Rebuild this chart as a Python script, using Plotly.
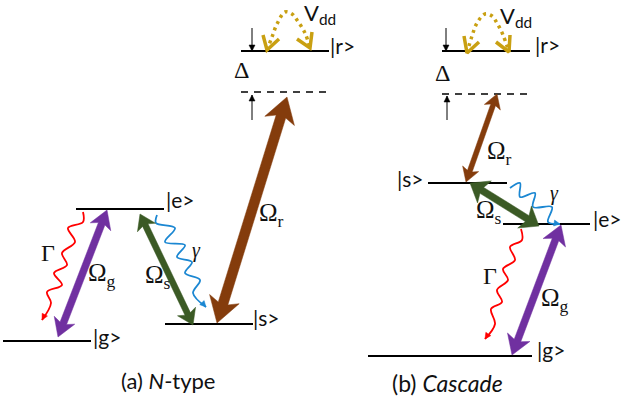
import math
import plotly.graph_objects as go

# ---- energy levels: start x, end x, height (axis units follow the picture)
level_x0 = [76, 3, 165, 241, 442, 428, 503, 368]
level_x1 = [164, 91, 253, 329, 530, 507, 590, 532]
level_y = [209, 341, 324, 51, 51, 183, 224, 356]

detuned_x0 = [241, 442]
detuned_x1 = [329, 530]
detuned_y = [92, 94]

# ---- double-headed couplings
coupling_names = ["Og_a", "Os_a", "Or_a", "Or_b", "Os_b", "Og_b"]
coupling_x0 = [107, 140, 287, 497, 470, 561]
coupling_y0 = [210, 214, 97, 94, 183, 225]
coupling_x1 = [58, 193, 217, 466, 539, 512]
coupling_y1 = [337, 325, 323, 182, 226, 355]
coupling_colors = ["#7030a0", "#3b5a25", "#843c0c", "#843c0c", "#3b5a25", "#7030a0"]
coupling_shaft = [7, 6, 10, 5, 7, 7]
coupling_head_len = [18, 15, 25, 14, 17, 19]
coupling_head_wid = [22, 20, 31, 17, 26, 24]

# ---- decay paths
red_a_x = [83, 83, 68, 75, 62, 67, 54, 62, 47, 51, 42]
red_a_y = [212, 222, 228, 242, 253, 265, 273, 285, 292, 303, 320]
blue_a_x = [157, 156, 175, 165, 185, 177, 192, 185, 200, 193, 206]
blue_a_y = [215, 223, 228, 242, 245, 257, 262, 273, 280, 293, 307]
blue_b_x = [510, 520, 520, 535, 533, 552, 548, 560]
blue_b_y = [188, 183, 197, 193, 207, 207, 222, 224]
red_b_x = [521, 522, 510, 515, 503, 508, 497, 502, 491, 495, 485]
red_b_y = [229, 240, 247, 260, 269, 280, 290, 302, 309, 324, 339]

# ---- dipole-dipole arcs with their open heads
arc_a_x = [267, 272, 277, 285, 292, 297, 305, 310]
arc_a_y = [50, 37, 24, 12, 14, 20, 33, 48]
arc_b_x = [467, 472, 477, 485, 492, 497, 503, 509]
arc_b_y = [53, 36, 23, 14, 16, 23, 35, 52]
chevron_x = [[263, 267, 279], [297, 310, 312], [464, 467, 479], [496, 509, 510]]
chevron_y = [[35, 50, 39], [39, 48, 32], [36, 53, 42], [42, 52, 35]]

# ---- detuning markers
detune_x0 = [252, 252, 446, 447]
detune_y0 = [28, 120, 28, 120]
detune_x1 = [252, 252, 446, 447]
detune_y1 = [51, 95, 51, 96]

# ---- text
sans_text = ["|e>", "|g>", "|s>", "|r>", "|r>", "|s>", "|e>", "|g>",
             "(a) <i>N</i>-type", "(b) <i>Cascade</i>",
             "V<sub>dd</sub>", "V<sub>dd</sub>"]
sans_x = [166, 93, 253, 330, 535, 397, 593, 537, 121, 392, 304, 500]
sans_y = [203, 340, 321, 49, 48, 182, 222, 353, 383, 386, 15, 18]
sans_size = [21, 21, 21, 21, 21, 21, 21, 21, 22, 23, 22, 22]

serif_text = ["Ω<sub>g</sub>", "Ω<sub>s</sub>", "Ω<sub>r</sub>", "Ω<sub>r</sub>",
              "Ω<sub>s</sub>", "Ω<sub>g</sub>", "Γ", "Γ", "Δ", "Δ",
              "<i>γ</i>", "<i>γ</i>"]
serif_x = [88, 145, 259, 487, 476, 541, 41, 483, 234, 435, 192, 550]
serif_y = [275, 277, 215, 153, 212, 300, 255, 278, 72, 75, 252, 195]
serif_size = [25, 25, 25, 25, 25, 25, 24, 24, 24, 24, 20, 20]


def double_arrow(x0, y0, x1, y1, shaft, hlen, hwid):
    """Outline of a shaft with a notched head at each end."""
    L = math.hypot(x1 - x0, y1 - y0)
    ux, uy = (x1 - x0) / L, (y1 - y0) / L
    nx, ny = -uy, ux
    s, w, notch = shaft / 2, hwid / 2, hlen * 0.82
    at = lambda d, o: (x0 + ux * d + nx * o, y0 + uy * d + ny * o)
    pts = [at(0, 0), at(hlen, w), at(notch, s), at(L - notch, s), at(L - hlen, w),
           at(L, 0), at(L - hlen, -w), at(L - notch, -s), at(notch, -s), at(hlen, -w), at(0, 0)]
    return [p[0] for p in pts], [p[1] for p in pts]


def small_head(x0, y0, x1, y1, hlen, hwid):
    L = math.hypot(x1 - x0, y1 - y0)
    ux, uy = (x1 - x0) / L, (y1 - y0) / L
    nx, ny = -uy, ux
    bx, by = x1 - ux * hlen, y1 - uy * hlen
    return ([bx + nx * hwid / 2, x1, bx - nx * hwid / 2, bx + nx * hwid / 2],
            [by + ny * hwid / 2, y1, by - ny * hwid / 2, by + ny * hwid / 2])


fig = go.Figure()


def add_line(x, y, color, width, dash="solid", shape="linear"):
    fig.add_trace(go.Scatter(x=x, y=y, mode="lines", hoverinfo="skip", showlegend=False,
                             line=dict(color=color, width=width, dash=dash, shape=shape)))


def add_fill(x, y, color):
    fig.add_trace(go.Scatter(x=x, y=y, mode="lines", fill="toself", fillcolor=color,
                             hoverinfo="skip", showlegend=False,
                             line=dict(color=color, width=0.5)))


for a, b, y in zip(level_x0, level_x1, level_y):
    add_line([a, b], [y, y], "#000000", 2)
for a, b, y in zip(detuned_x0, detuned_x1, detuned_y):
    add_line([a, b], [y, y], "#000000", 1.6, dash="7px,6px")

for xs, ys, col in [(red_a_x, red_a_y, "#ff0000"), (red_b_x, red_b_y, "#ff0000"),
                    (blue_a_x, blue_a_y, "#1b87d2"), (blue_b_x, blue_b_y, "#1b87d2")]:
    add_line(xs, ys, col, 1.8, shape="spline")
    hx, hy = small_head(xs[-2], ys[-2], xs[-1], ys[-1], 6, 6)
    add_fill(hx, hy, col)

for xs, ys in [(arc_a_x, arc_a_y), (arc_b_x, arc_b_y)]:
    add_line(xs, ys, "#c9a012", 3.5, dash="3px,4px", shape="spline")
for xs, ys in zip(chevron_x, chevron_y):
    add_line(xs, ys, "#c9a012", 3.5)

for a, b, c, d in zip(detune_x0, detune_y0, detune_x1, detune_y1):
    add_line([a, c], [b, d], "#000000", 1)
    hx, hy = small_head(a, b, c, d, 6, 6)
    add_fill(hx, hy, "#000000")

for i in range(len(coupling_names)):
    px, py = double_arrow(coupling_x0[i], coupling_y0[i], coupling_x1[i], coupling_y1[i],
                          coupling_shaft[i], coupling_head_len[i], coupling_head_wid[i])
    add_fill(px, py, coupling_colors[i])

fig.add_trace(go.Scatter(x=sans_x, y=sans_y, text=sans_text, mode="text", textposition="middle right",
                         hoverinfo="skip", showlegend=False, cliponaxis=False,
                         textfont=dict(family="Lato", size=sans_size, color="#111111")))
fig.add_trace(go.Scatter(x=serif_x, y=serif_y, text=serif_text, mode="text", textposition="middle right",
                         hoverinfo="skip", showlegend=False, cliponaxis=False,
                         textfont=dict(family="Liberation Serif", size=serif_size, color="#111111")))

fig.update_xaxes(range=[0, 624], visible=False, fixedrange=True)
fig.update_yaxes(range=[409, 0], visible=False, fixedrange=True)
fig.update_layout(width=624, height=409, margin=dict(l=0, r=0, t=0, b=0),
                  paper_bgcolor="white", plot_bgcolor="white", showlegend=False)
fig.write_html("out.html", config={"displayModeBar": False},
               post_script="document.body.style.margin='0';document.documentElement.style.overflow='hidden';")
